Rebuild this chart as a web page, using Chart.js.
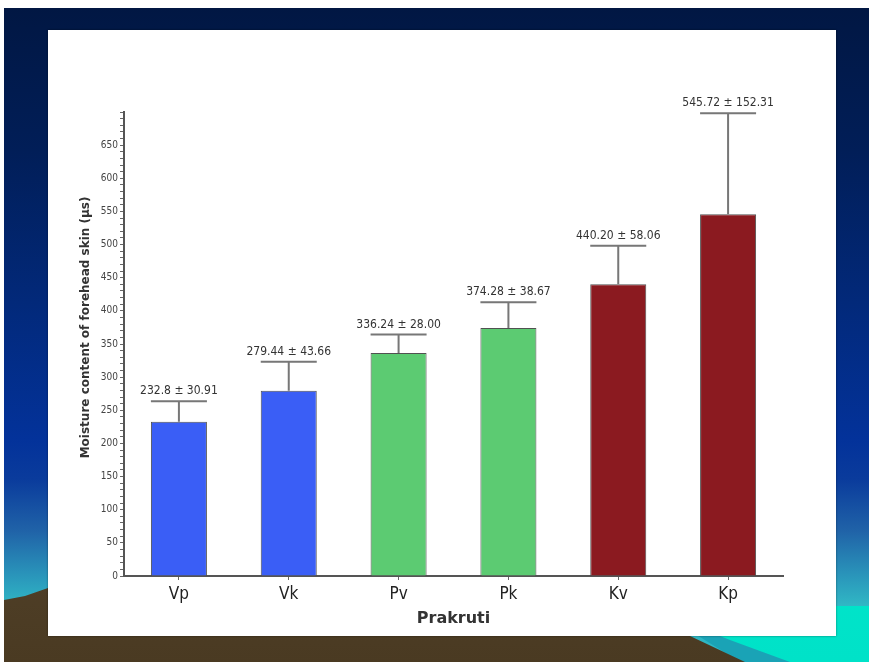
<!DOCTYPE html>
<html>
<head>
<meta charset="utf-8">
<script src="https://cdn.jsdelivr.net/npm/chart.js@4.4.1/dist/chart.umd.min.js"></script>
<style>
  html, body { margin: 0; padding: 0; }
  body { width: 869px; height: 662px; position: relative; overflow: hidden; background: #fff; }
  #slide {
    position: absolute; left: 4px; top: 8px; right: 0; bottom: 0;
    background: linear-gradient(180deg, #011743 0%, #011e58 22%, #02297a 45%, #03329a 66%, #0a3b9c 72%,
      #2063a8 80%, #2a97bb 87%, #31bcc6 92%, #2bb3c2 100%);
  }
  #teal {
    position: absolute; left: 0; top: 0; width: 869px; height: 662px;
    background: linear-gradient(180deg, #00f4d4, #00e2c8);
    clip-path: polygon(640px 606px, 869px 606px, 869px 662px, 770px 662px);
  }
  #darkteal {
    position: absolute; left: 0; top: 0; width: 869px; height: 662px;
    background: #1aa3b6;
    clip-path: polygon(660px 612px, 730px 640px, 790px 662px, 740px 662px);
  }
  #land {
    position: absolute; left: 0; top: 0; width: 869px; height: 662px;
    background: linear-gradient(180deg, #6f5d46 0%, #5b4a33 50%, #4a3a22 100%);
    clip-path: polygon(4px 600px, 25px 596px, 48px 588px, 120px 582px, 690px 636px, 745px 662px, 4px 662px);
  }
  #panel {
    position: absolute; left: 48px; top: 30px; width: 788px; height: 606px;
    background: #fff; box-shadow: 0 0 2px rgba(0,0,0,0.45);
  }
  #chart { position: absolute; left: 0; top: 0; }
</style>
</head>
<body>
<div id="slide"></div>
<div id="teal"></div>
<div id="darkteal"></div>
<div id="land"></div>
<div id="panel"></div>
<canvas id="chart" width="869" height="662"></canvas>
<script>
// Data
const categories = ['Vp', 'Vk', 'Pv', 'Pk', 'Kv', 'Kp'];
const means = [232.8, 279.44, 336.24, 374.28, 440.20, 545.72];
const sds = [30.91, 43.66, 28.00, 38.67, 58.06, 152.31];
const meanText = ['232.8', '279.44', '336.24', '374.28', '440.20', '545.72'];
const sdText = ['30.91', '43.66', '28.00', '38.67', '58.06', '152.31'];
const barColors = ['#3a5ef6', '#3a5ef6', '#5ccb72', '#5ccb72', '#8b1a20', '#8b1a20'];
const yMax = 700;
const yLabelStep = 50;
const yMinorStep = 10;
const yTitle = 'Moisture content of forehead skin (µs)';
const xTitle = 'Prakruti';

const narrow = '"DejaVu Sans Condensed", "Liberation Sans Narrow", "DejaVu Sans", sans-serif';

// Upper error bars with "mean ± sd" labels
const errorBars = {
    id: 'errorBars',
    afterDatasetsDraw(chart) {
        const ctx = chart.ctx;
        const y = chart.scales.y;
        const meta = chart.getDatasetMeta(0);
        ctx.save();
        meta.data.forEach(function(bar, i) {
            const top = y.getPixelForValue(means[i] + sds[i]);
            const half = bar.width / 2;
            ctx.strokeStyle = '#777';
            ctx.lineWidth = 2;
            ctx.beginPath();
            ctx.moveTo(bar.x, bar.y);
            ctx.lineTo(bar.x, top);
            ctx.moveTo(bar.x - half, top);
            ctx.lineTo(bar.x + half, top);
            ctx.stroke();
            ctx.fillStyle = '#333';
            ctx.font = '12px ' + narrow;
            ctx.textAlign = 'center';
            ctx.textBaseline = 'bottom';
            ctx.fillText(meanText[i] + ' ± ' + sdText[i], bar.x, top - 4);
        });
        ctx.restore();
    }
};

// Rotated y axis title, placed beside the labelled part of the axis
const yAxisTitle = {
    id: 'yAxisTitle',
    afterDraw(chart) {
        const ctx = chart.ctx;
        const y = chart.scales.y;
        ctx.save();
        ctx.translate(86, y.getPixelForValue(375));
        ctx.rotate(-Math.PI / 2);
        ctx.fillStyle = '#333';
        ctx.font = 'bold 12px "DejaVu Sans", sans-serif';
        ctx.textAlign = 'center';
        ctx.textBaseline = 'middle';
        ctx.fillText(yTitle, 0, 0);
        ctx.restore();
    }
};

const ctx = document.getElementById('chart').getContext('2d');
new Chart(ctx, {
    type: 'bar',
    data: {
        labels: categories,
        datasets: [{
            data: means,
            backgroundColor: barColors,
            borderColor: 'rgba(50,50,50,0.85)',
            borderWidth: 1,
            barPercentage: 0.51,
            categoryPercentage: 1
        }]
    },
    options: {
        responsive: false,
        animation: false,
        layout: { padding: { left: 78, right: 86, top: 112, bottom: 24 } },
        plugins: {
            legend: { display: false },
            tooltip: { enabled: false }
        },
        scales: {
            x: {
                grid: { drawOnChartArea: false, offset: false, tickLength: 4, color: '#666' },
                border: { color: '#555', width: 2 },
                ticks: { color: '#222', font: { family: narrow, size: 17 }, padding: 4 },
                title: {
                    display: true, text: xTitle, color: '#333',
                    font: { family: '"DejaVu Sans", sans-serif', size: 16, weight: 'bold' },
                    padding: { top: 0, bottom: 10 }
                },
                afterFit(scale) { scale.height = 62; }
            },
            y: {
                min: 0,
                max: yMax,
                grid: { drawOnChartArea: false, tickLength: 4, color: '#666' },
                border: { color: '#555', width: 2 },
                ticks: {
                    stepSize: yMinorStep,
                    autoSkip: false,
                    padding: 2,
                    color: '#444',
                    font: { family: narrow, size: 10 },
                    callback: function(v) { return (v % yLabelStep === 0 && v < yMax) ? v : ''; }
                },
                afterFit(scale) { scale.width = 46; }
            }
        }
    },
    plugins: [errorBars, yAxisTitle]
});
</script>
</body>
</html>
